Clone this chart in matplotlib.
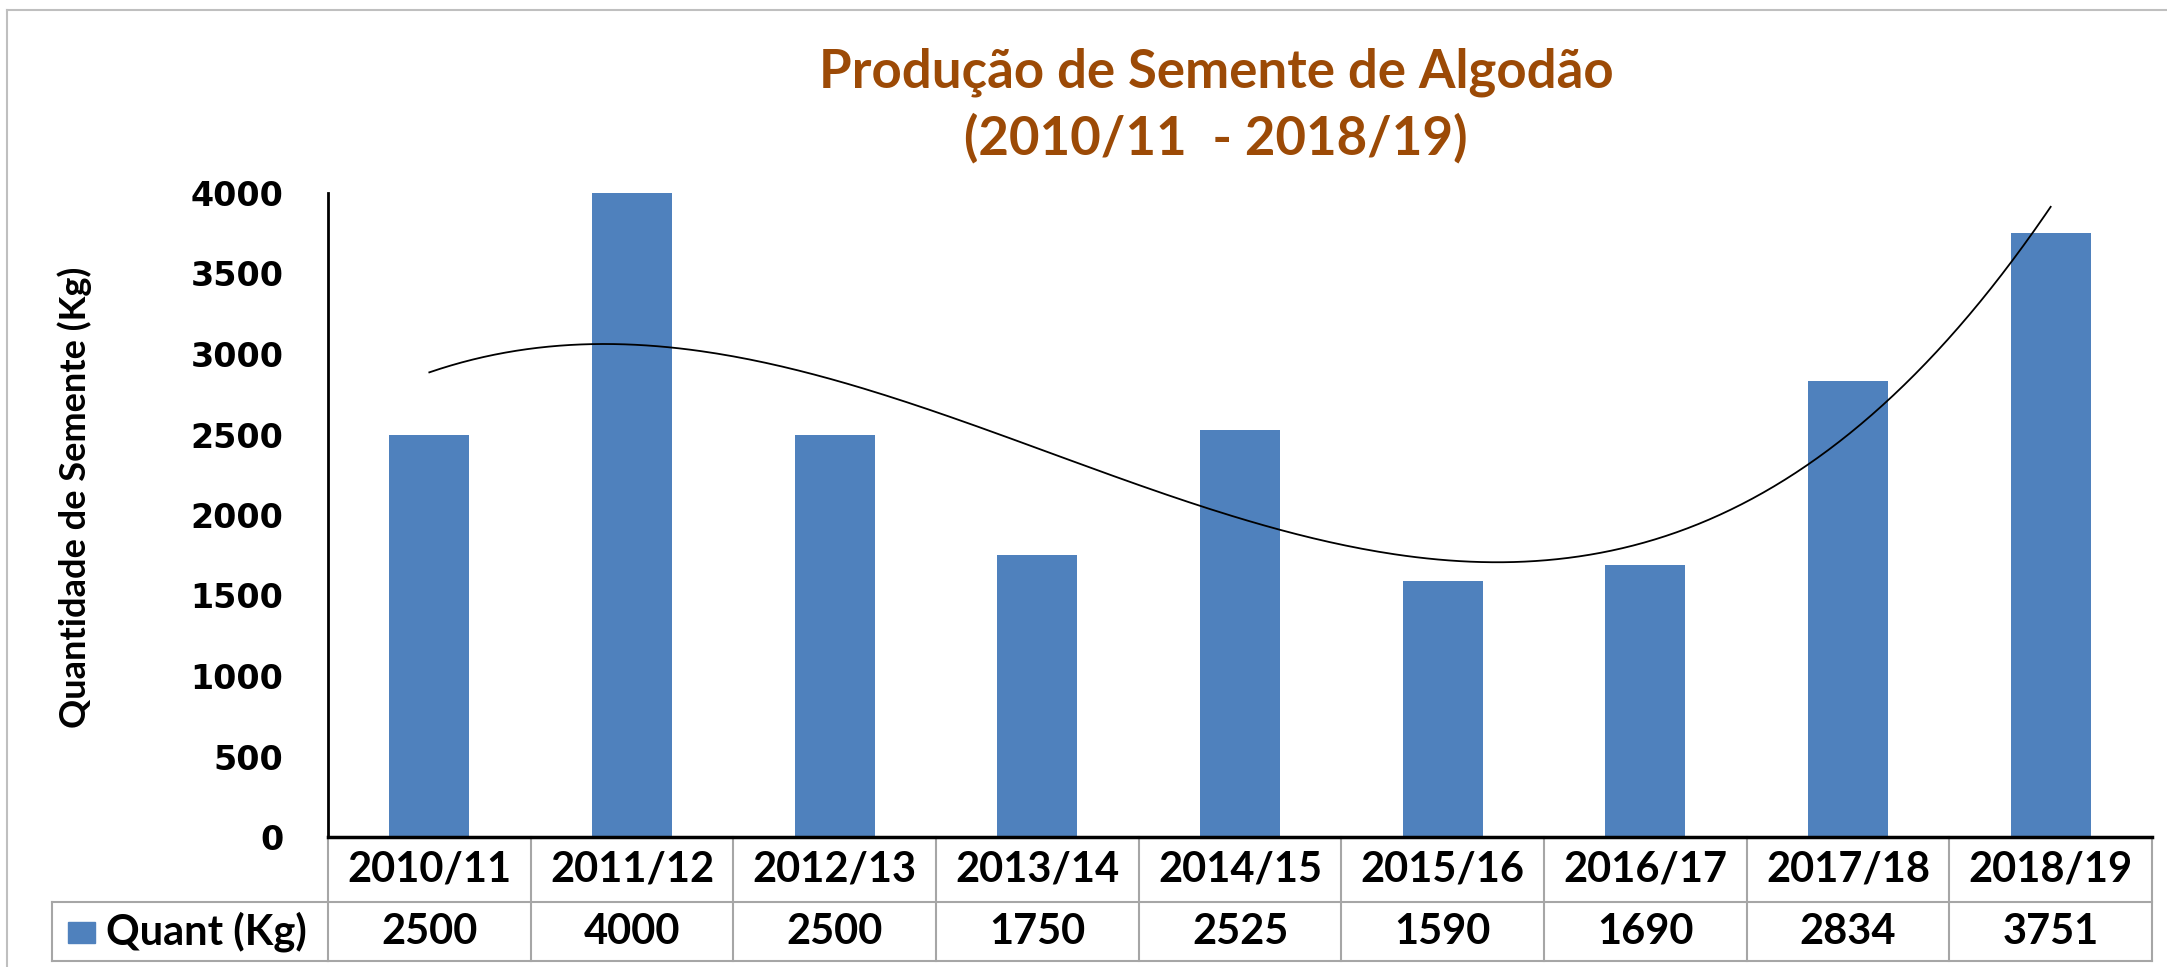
import numpy as np
import matplotlib
matplotlib.use("Agg")
import matplotlib.pyplot as plt
from matplotlib.lines import Line2D
from matplotlib.patches import Rectangle

safras = ["2010/11", "2011/12", "2012/13", "2013/14", "2014/15",
          "2015/16", "2016/17", "2017/18", "2018/19"]
quant = [2500, 4000, 2500, 1750, 2525, 1590, 1690, 2834, 3751]
yticks = [0, 500, 1000, 1500, 2000, 2500, 3000, 3500, 4000]
serie = "Quant (Kg)"

W, H = 2167, 967
fig = plt.figure(figsize=(W / 100, H / 100), dpi=100)
ax = fig.add_axes([328 / W, 1 - 837 / H, (2152 - 328) / W, (837 - 193) / H])

blue = "#4F81BD"
brown = "#9C4A06"
grid_gray = "#A6A6A6"
tfont = "Lato"

x = np.arange(len(safras))
ax.bar(x, quant, width=0.395, color=blue, zorder=2)

# trend line (polynomial, order 3) like Excel
coef = np.polyfit(x, quant, 3)
xs = np.linspace(0, len(safras) - 1, 300)
ax.plot(xs, np.polyval(coef, xs), color="black", lw=1.3, zorder=3)

ax.set_xlim(-0.5, len(safras) - 0.5)
ax.set_ylim(0, 4000)
ax.set_yticks(yticks)
ax.set_yticklabels([str(v) for v in yticks], fontsize=24, fontweight="bold",
                   family="DejaVu Sans")
ax.tick_params(axis="y", length=0, pad=32)
ax.set_xticks([])
for s in ["top", "right"]:
    ax.spines[s].set_visible(False)
ax.spines["left"].set_linewidth(2)
ax.spines["bottom"].set_linewidth(2.5)

# data table under the axis
axh = 837 - 193
h1 = 65 / axh
h2 = 59 / axh
tr = ax.get_xaxis_transform()
for i in range(len(safras) + 1):
    ax.add_line(Line2D([i - 0.5, i - 0.5], [0, -h1 - h2], transform=tr,
                       color=grid_gray, lw=1.5, clip_on=False))
ax.add_line(Line2D([-0.5, len(safras) - 0.5], [-h1, -h1], transform=tr,
                   color=grid_gray, lw=1.5, clip_on=False))
ax.add_line(Line2D([-0.5, len(safras) - 0.5], [-h1 - h2, -h1 - h2], transform=tr,
                   color=grid_gray, lw=1.5, clip_on=False))
for i, (s, q) in enumerate(zip(safras, quant)):
    ax.text(i, -h1 / 2, s, transform=tr, ha="center", va="center",
            fontsize=30, fontweight="bold", family=tfont)
    ax.text(i, -h1 - h2 / 2, str(q), transform=tr, ha="center", va="center",
            fontsize=30, fontweight="bold", family=tfont)

# legend cell on the left of the value row
left = 52 / W
axl = 328 / W
y_top = 1 - 902 / H
y_bot = 1 - 961 / H
for xx0, yy0, xx1, yy1 in [(left, y_top, axl, y_top), (left, y_bot, axl, y_bot),
                           (left, y_top, left, y_bot)]:
    fig.add_artist(Line2D([xx0, xx1], [yy0, yy1], color=grid_gray, lw=1.5))
fig.add_artist(Rectangle((68 / W, 1 - 943 / H), 27 / W, 21 / H, color=blue))
fig.text(106 / W, (y_top + y_bot) / 2, serie, ha="left", va="center",
         fontsize=30, fontweight="bold", family=tfont)

# outer frame
fr = "#BFBFBF"
fig.add_artist(Line2D([7 / W, 7 / W], [0, 1 - 10 / H], color=fr, lw=1.5))
fig.add_artist(Line2D([7 / W, 1], [1 - 10 / H, 1 - 10 / H], color=fr, lw=1.5))

fig.text(1216 / W, 1 - 72 / H, "Produção de Semente de Algodão", ha="center",
         va="center", fontsize=38, fontweight="bold", color=brown, family=tfont)
fig.text(1216 / W, 1 - 138 / H, "(2010/11  - 2018/19)", ha="center",
         va="center", fontsize=38, fontweight="bold", color=brown, family=tfont)
fig.text(75 / W, 1 - 497 / H, "Quantidade de Semente (Kg)", rotation=90,
         ha="center", va="center", fontsize=26, fontweight="bold", family=tfont)

fig.savefig("out.png", dpi=100)
